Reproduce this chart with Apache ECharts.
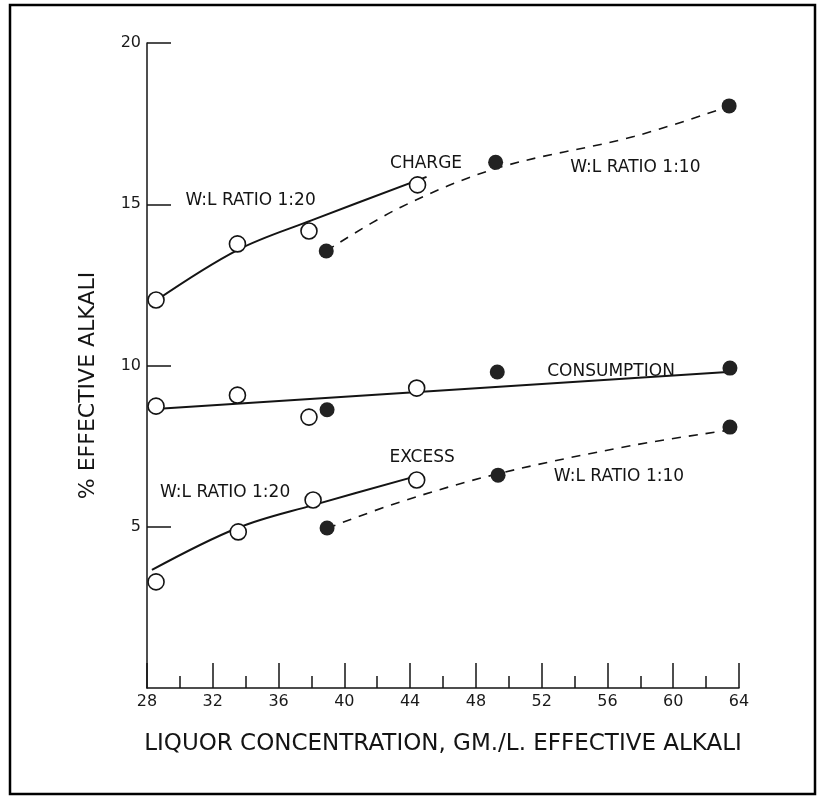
<!DOCTYPE html>
<html>
<head>
<meta charset="utf-8">
<script src="https://cdn.jsdelivr.net/npm/echarts@6/dist/echarts.min.js"></script>
<style>
  html, body { margin: 0; padding: 0; background: #fff; }
  #main { width: 817px; height: 796px; }
</style>
</head>
<body>
<div id="main"></div>
<script>
// measured points, W:L ratio 1:20 (open) and 1:10 (filled)
const chargeOpen = [[28.55, 12.03], [33.5, 13.77], [37.85, 14.17], [44.45, 15.6]]
const chargeFilled = [[38.9, 13.55], [49.2, 16.3], [63.4, 18.05]]
const consumptionOpen = [[28.55, 8.74], [33.5, 9.08], [37.85, 8.4], [44.4, 9.3]]
const consumptionFilled = [[38.95, 8.63], [49.3, 9.8], [63.45, 9.92]]
const excessOpen = [[28.55, 3.29], [33.55, 4.84], [38.1, 5.83], [44.4, 6.45]]
const excessFilled = [[38.95, 4.96], [49.35, 6.6], [63.45, 8.09]]

// drawn curves
const chargeFit20 = [[28.5, 12.0], [33.5, 13.58], [38, 14.5], [45, 15.85]]
const chargeFit10 = [[38.9, 13.55], [43.4, 14.9], [49.3, 16.12], [57.6, 17.1], [63.3, 18.02]]
const consumptionFit = [[28.5, 8.65], [63.3, 9.8]]
const excessFit20 = [[28.3, 3.66], [33.5, 4.96], [38.1, 5.67], [44.6, 6.6]]
const excessFit10 = [[38.95, 4.95], [43.4, 5.77], [49.4, 6.65], [57.6, 7.53], [63.2, 7.98]]

// annotations
const noteText = ['CHARGE', 'W:L RATIO 1:20', 'W:L RATIO 1:10', 'CONSUMPTION', 'EXCESS', 'W:L RATIO 1:20', 'W:L RATIO 1:10']
const noteX = [44.97, 34.3, 57.7, 56.22, 44.73, 32.75, 56.7]
const noteY = [16.25, 15.1, 16.15, 9.8, 7.13, 6.05, 6.57]

const xTicks = [28, 32, 36, 40, 44, 48, 52, 56, 60, 64]
const yTicks = [5, 10, 15, 20]

const ink = '#141414'
const font = 'DejaVu Sans'

function fitLine(data, dashed) {
  return {
    type: 'line',
    data: data,
    smooth: 0.35,
    showSymbol: false,
    silent: true,
    z: 2,
    lineStyle: {
      color: ink,
      width: dashed ? 1.6 : 2,
      type: dashed ? [9, 8] : 'solid',
    },
  }
}
function openPts(data) {
  return {
    type: 'scatter',
    data: data,
    symbol: 'circle',
    symbolSize: 16,
    z: 4,
    itemStyle: { color: '#fff', borderColor: ink, borderWidth: 1.6, opacity: 1 },
  }
}
function filledPts(data) {
  return {
    type: 'scatter',
    data: data,
    symbol: 'circle',
    symbolSize: 15,
    z: 4,
    itemStyle: { color: '#222', opacity: 1 },
  }
}

const notes = noteText.map((t, i) => [noteX[i], noteY[i], t])

const option = {
  animation: false,
  backgroundColor: '#fff',
  grid: { left: 147, right: 78, top: 43, bottom: 108 },
  xAxis: {
    type: 'value',
    min: 28,
    max: 64,
    interval: 4,
    name: 'LIQUOR CONCENTRATION, GM./L. EFFECTIVE ALKALI',
    nameLocation: 'middle',
    nameGap: 45,
    nameTextStyle: { fontFamily: font, fontSize: 23, color: ink },
    axisLine: { lineStyle: { color: ink, width: 1.5 } },
    axisTick: { inside: true, length: 25, lineStyle: { color: ink, width: 1.5 } },
    minorTick: { show: true, splitNumber: 2, length: 12, lineStyle: { color: ink, width: 1.5 } },
    axisLabel: {
      fontFamily: font, fontSize: 16, color: '#1a1a1a', margin: 6,
      formatter: v => (xTicks.includes(v) ? String(v) : ''),
    },
    splitLine: { show: false },
  },
  yAxis: {
    type: 'value',
    min: 0,
    max: 20,
    interval: 5,
    name: '% EFFECTIVE ALKALI',
    nameLocation: 'middle',
    nameRotate: 90,
    nameGap: 48,
    nameTextStyle: { fontFamily: font, fontSize: 22, color: ink, padding: [0, 40, 0, 0] },
    axisLine: { lineStyle: { color: ink, width: 1.5 } },
    axisTick: { inside: true, length: 24, lineStyle: { color: ink, width: 1.5 } },
    axisLabel: {
      fontFamily: font, fontSize: 16, color: '#1a1a1a', margin: 6,
      showMinLabel: false,
      formatter: v => (yTicks.includes(v) ? String(v) : ''),
    },
    splitLine: { show: false },
  },
  graphic: [
    {
      type: 'rect',
      shape: { x: 10, y: 5, width: 805, height: 789 },
      style: { fill: 'none', stroke: '#000', lineWidth: 2.5 },
      z: 100,
    },
  ],
  series: [
    fitLine(chargeFit20, false),
    fitLine(chargeFit10, true),
    fitLine(consumptionFit, false),
    fitLine(excessFit20, false),
    fitLine(excessFit10, true),
    openPts(chargeOpen),
    filledPts(chargeFilled),
    openPts(consumptionOpen),
    filledPts(consumptionFilled),
    openPts(excessOpen),
    filledPts(excessFilled),
    {
      type: 'scatter',
      data: notes,
      symbolSize: 0,
      silent: true,
      z: 5,
      itemStyle: { color: ink, opacity: 1 },
      label: {
        show: true,
        position: [0, 0],
        align: 'center',
        verticalAlign: 'middle',
        formatter: p => p.value[2],
        fontFamily: font,
        fontSize: 17,
        color: ink,
        opacity: 1,
        textBorderWidth: 0,
      },
    },
  ],
}

const chart = echarts.init(document.getElementById('main'))
chart.setOption(option)
</script>
</body>
</html>
